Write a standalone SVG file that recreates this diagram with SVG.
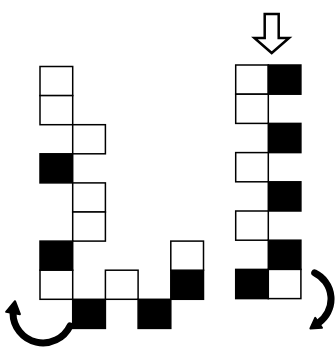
<svg xmlns="http://www.w3.org/2000/svg" width="335" height="349" viewBox="0 0 335 349">
<style>
.w{fill:#fff;stroke:#000;stroke-width:1.5}
.b{fill:#000;stroke:#000;stroke-width:1.5}
.arc{fill:none;stroke:#000;stroke-width:7;stroke-linecap:round}
.hd{fill:#000;stroke:#000;stroke-width:2;stroke-linejoin:round}
</style>
<rect width="335" height="349" fill="#fff"/>
<g id="left-chain">
<g id="L1"><rect class="w" x="40" y="66.5" width="32.7" height="29.1"/></g>
<g id="L2"><rect class="w" x="40" y="95.6" width="32.7" height="29.1"/></g>
<g id="L3"><rect class="w" x="72.7" y="124.7" width="32.7" height="29.1"/></g>
<g id="L4"><rect class="b" x="40" y="153.8" width="32.7" height="29.1"/></g>
<g id="L5"><rect class="w" x="72.7" y="182.9" width="32.7" height="29.1"/></g>
<g id="L6"><rect class="w" x="72.7" y="212" width="32.7" height="29.1"/></g>
<g id="L7"><rect class="b" x="40" y="241.1" width="32.7" height="29.1"/></g>
<g id="L8"><rect class="w" x="40" y="270.2" width="32.7" height="29.1"/></g>
<g id="L9"><rect class="b" x="72.7" y="299.3" width="32.7" height="29.1"/></g>
<g id="L10"><rect class="w" x="105.4" y="270.2" width="32.7" height="29.1"/></g>
<g id="L11"><rect class="b" x="138.1" y="299.3" width="32.7" height="29.1"/></g>
<g id="L12"><rect class="b" x="170.8" y="270.2" width="32.7" height="29.1"/></g>
<g id="L13"><rect class="w" x="170.8" y="241.1" width="32.7" height="29.1"/></g>
</g>
<g id="right-chain">
<g id="R1"><rect class="w" x="235.7" y="65" width="32.6" height="29.2"/></g>
<g id="R2"><rect class="b" x="268.3" y="65" width="32.6" height="29.2"/></g>
<g id="R3"><rect class="w" x="235.7" y="94.2" width="32.6" height="29.2"/></g>
<g id="R4"><rect class="b" x="268.3" y="123.4" width="32.6" height="29.2"/></g>
<g id="R5"><rect class="w" x="235.7" y="152.6" width="32.6" height="29.2"/></g>
<g id="R6"><rect class="b" x="268.3" y="181.8" width="32.6" height="29.2"/></g>
<g id="R7"><rect class="w" x="235.7" y="211" width="32.6" height="29.2"/></g>
<g id="R8"><rect class="b" x="268.3" y="240.2" width="32.6" height="29.2"/></g>
<g id="R9"><rect class="b" x="235.7" y="269.4" width="32.6" height="29.2"/></g>
<g id="R10"><rect class="w" x="268.3" y="269.4" width="32.6" height="29.2"/></g>
</g>
<g id="connectors">
<polygon points="264.7,14 278.7,14 278.7,38 289,38 271.7,53 254.4,38 264.7,38" fill="#fff" stroke="#000" stroke-width="2.5" stroke-linejoin="miter"/>
<path class="arc" d="M 70 326 A 30 30 0 0 1 13 313"/>
<polygon class="hd" points="6.1,311.8 19.9,314.2 15,301.2"/>
<path class="arc" d="M 314.7 272.9 A 29 29 0 0 1 318.6 322.8"/>
<polygon class="hd" points="322,327.7 315.2,317.9 310.4,328.5"/>
</g>
</svg>
